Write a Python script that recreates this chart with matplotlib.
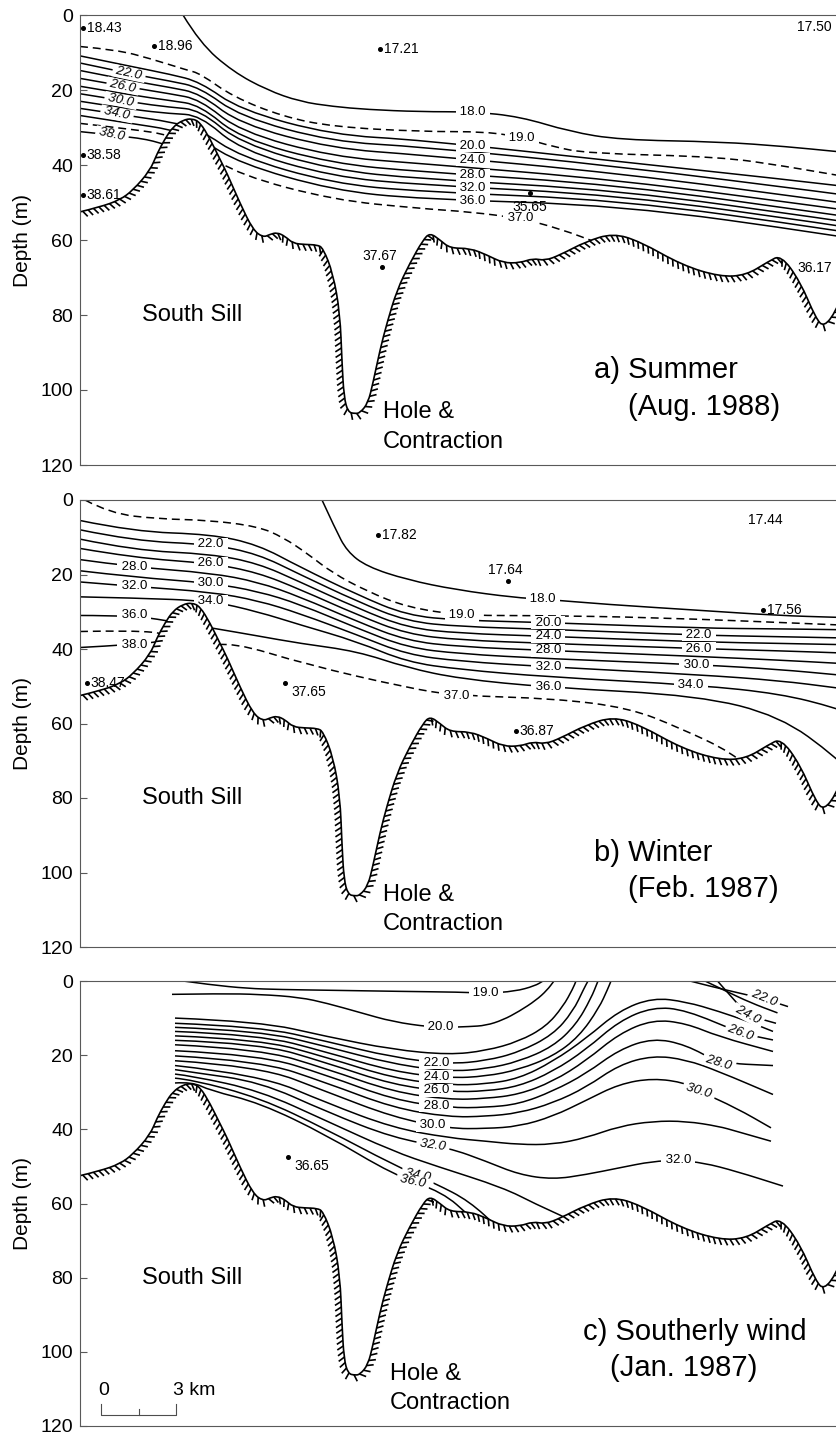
import numpy as np
import matplotlib
matplotlib.use("Agg")
import matplotlib.pyplot as plt
from matplotlib import patheffects
from matplotlib.path import Path
from matplotlib.patches import PathPatch

plt.rcParams["font.family"] = ["Liberation Sans", "DejaVu Sans"]

FIG_W, FIG_H = 836, 1437                 # pixels at dpi 100
AX_LEFT, AX_RIGHT = 80, 880              # section runs on past the page edge
PX_PER_KM = 25.0
PANEL_ROWS = [(15, 465), (500, 947), (981, 1426)]
DEPTH_TICKS = [0, 20, 40, 60, 80, 100, 120]

# =========================
# Bottom profile along the section (km, m)
# =========================
BOTTOM_KM = [0.0, 0.8, 1.6, 2.12, 2.8, 3.08, 3.4, 3.72, 4.12, 4.48, 4.8, 5.2, 5.6,
             5.88, 6.4, 6.92, 7.32, 7.6, 7.88, 8.2, 8.52, 9.0, 9.48, 9.72, 10.12,
             10.4, 10.48, 10.56, 10.72, 11.0, 11.2, 11.52, 11.72, 12.0, 12.28,
             12.68, 13.2, 13.72, 14.0, 14.4, 14.8, 15.6, 16.28, 16.92, 17.6, 18.12,
             18.6, 19.2, 20.24, 21.32, 22.4, 24.08, 25.6, 26.64, 27.52, 28.04, 28.8,
             29.44, 29.76, 30.24, 30.8, 31.4, 32.0]
BOTTOM_M = [52.5, 51.2, 49.3, 46.7, 41.5, 37.0, 33.0, 29.8, 28.0, 27.6, 28.6, 33.0, 38.5,
            42.2, 50.2, 57.3, 59.3, 58.5, 58.0, 59.0, 60.9, 61.2, 61.3, 62.1, 68.9,
            79.5, 92.8, 101.9, 105.9, 106.3, 106.1, 103.5, 98.1, 89.3, 82.1,
            73.3, 66.1, 60.0, 58.1, 60.0, 62.2, 62.2, 64.0, 66.1, 66.1, 64.9,
            65.5, 64.0, 60.4, 58.2, 60.4, 66.7, 69.8, 69.4, 65.8, 64.0, 71.0,
            81.0, 83.2, 79.0, 70.0, 64.0, 60.0]

# =========================
# a) Summer (Aug. 1988) isohalines
# =========================
A_X = [0.0, 2.1, 3.6, 4.8, 6.4, 10.1, 13.6, 21.6, 30.2, 32.0]
A_LEVELS = [20, 22, 24, 26, 28, 30, 32, 34, 36]
A_DEPTHS = [
    [10.9, 13.8, 15.8, 17.8, 25.3, 32.0, 33.3, 39.1, 45.3, 47.0],
    [12.8, 15.8, 17.6, 19.3, 27.1, 33.8, 35.1, 40.4, 47.6, 49.3],
    [14.8, 17.6, 19.3, 20.9, 29.1, 35.6, 37.3, 42.2, 49.8, 51.5],
    [16.9, 19.4, 21.0, 22.5, 31.1, 37.8, 39.6, 44.0, 51.6, 53.3],
    [19.0, 21.4, 22.8, 24.0, 32.9, 39.6, 41.8, 45.3, 53.3, 55.0],
    [21.0, 23.3, 24.6, 25.3, 34.2, 41.3, 43.7, 46.7, 54.7, 56.5],
    [23.0, 25.2, 26.3, 26.7, 36.0, 43.1, 45.3, 48.0, 56.0, 58.0],
    [24.9, 27.0, 28.5, 30.5, 37.8, 44.9, 47.1, 49.3, 57.3, 59.5],
    [26.8, 29.0, 30.5, 33.0, 39.6, 46.7, 49.1, 50.7, 58.7, 61.0],
]
A_18_X = [4.12, 4.8, 6.12, 7.48, 8.8, 10.12, 11.48, 13.6, 15.72, 17.6, 19.6, 21.6, 25.6, 28.28, 30.24, 32.0]
A_18_Z = [0.0, 7.5, 15.1, 20.0, 23.1, 24.4, 25.2, 25.8, 25.8, 27.1, 31.1, 33.3, 33.8, 35.1, 36.4, 37.5]
A_19_X = [0.0, 1.48, 2.8, 4.28, 4.8, 6.12, 8.12, 10.12, 13.6, 16.28, 17.68, 18.92, 20.28, 25.6, 28.28, 30.24, 32.0]
A_19_Z = [8.4, 9.3, 11.6, 14.7, 15.6, 21.8, 27.1, 29.8, 31.1, 31.1, 32.7, 35.1, 36.9, 37.8, 40.4, 42.7, 44.5]
A_37_X = [0.0, 2.12, 3.6, 4.8, 6.4, 10.12, 13.6, 15.6, 17.6, 19.2, 20.8]
A_37_Z = [28.9, 30.5, 32.0, 36.0, 42.7, 49.3, 51.6, 52.5, 54.2, 57.0, 61.0]
A_38_X = [0.0, 2.12, 3.2, 4.0]
A_38_Z = [31.1, 32.5, 34.0, 36.0]

A_STN_X = [0.12, 2.96, 12.0, 0.12, 0.12, 18.0, 12.08, 28.7, 28.7]
A_STN_Z = [3.5, 8.3, 9.1, 37.3, 48.0, 47.4, 67.1, 3.2, 67.4]
A_STN_VAL = ["18.43", "18.96", "17.21", "38.58", "38.61", "35.65", "37.67", "17.50", "36.17"]
A_STN_POS = ["right", "right", "right", "right", "right", "below", "above", "bare", "bare"]

# =========================
# b) Winter (Feb. 1987) isohalines
# =========================
B_X = [0.0, 2.16, 5.24, 7.12, 8.8, 11.08, 13.08, 15.2, 18.72, 24.76, 28.0, 30.24, 32.0]
B_LEVELS = [20, 22, 24, 26, 28, 30, 32, 34]
B_DEPTHS = [
    [5.5, 8.5, 9.2, 12.0, 18.0, 25.4, 31.0, 32.3, 32.9, 34.4, 34.6, 34.8, 35.0],
    [8.0, 11.0, 11.9, 14.5, 20.0, 27.2, 32.6, 34.0, 34.7, 36.3, 36.7, 37.0, 37.2],
    [10.5, 13.5, 14.5, 17.0, 22.0, 29.0, 34.3, 35.8, 36.6, 38.1, 38.5, 38.8, 39.0],
    [13.0, 15.5, 17.0, 19.5, 24.0, 30.8, 36.0, 37.6, 38.5, 39.9, 40.5, 41.0, 41.5],
    [16.0, 18.0, 19.6, 22.0, 26.0, 32.6, 37.8, 39.4, 40.4, 42.0, 43.0, 43.8, 44.5],
    [19.0, 20.7, 22.3, 24.5, 28.0, 34.4, 39.6, 41.3, 42.6, 44.2, 45.5, 46.9, 48.0],
    [22.0, 23.2, 24.7, 27.0, 30.5, 36.2, 41.5, 43.3, 44.8, 46.9, 48.5, 50.4, 52.0],
    [26.0, 26.3, 27.1, 30.0, 33.5, 38.0, 43.5, 45.5, 47.5, 49.7, 52.0, 55.8, 60.0],
]
B_36_X = [0.0, 2.16, 4.0, 5.4, 7.12, 8.8, 11.08, 13.08, 15.2, 18.72, 24.76, 28.0, 30.24, 32.0]
B_36_Z = [31.0, 31.0, 33.0, 34.5, 36.5, 38.5, 40.6, 45.0, 48.0, 50.3, 52.5, 58.0, 69.0, 80.0]
B_18_X = [9.68, 10.2, 10.68, 11.48, 13.08, 15.04, 17.4, 18.52, 21.0, 24.96, 27.92, 30.24, 32.0]
B_18_Z = [0.0, 7.6, 13.8, 17.9, 21.4, 24.1, 26.2, 26.6, 28.0, 29.7, 31.0, 31.5, 31.8]
B_19_X = [0.2, 1.2, 3.16, 5.12, 7.12, 8.12, 9.12, 10.08, 11.48, 13.08, 15.28, 18.0, 22.96, 30.24, 32.0]
B_19_Z = [0.0, 3.6, 5.1, 5.4, 7.1, 10.0, 14.5, 19.5, 24.5, 28.8, 31.0, 31.0, 31.5, 33.5, 34.0]
B_37_X = [0.0, 2.16, 3.6, 4.8, 6.04, 9.08, 13.08, 15.04, 19.0, 21.96, 23.96, 26.12, 27.2]
B_37_Z = [35.3, 35.0, 36.0, 40.0, 38.0, 44.2, 50.4, 52.5, 53.3, 55.8, 61.1, 67.9, 75.0]
B_38_X = [0.0, 2.16, 3.2, 4.0]
B_38_Z = [39.6, 38.8, 38.0, 37.0]

B_STN_X = [0.28, 8.2, 11.92, 17.12, 27.4, 27.32, 17.44]
B_STN_Z = [49.1, 49.1, 9.4, 21.7, 5.4, 29.5, 61.9]
B_STN_VAL = ["38.47", "37.65", "17.82", "17.64", "17.44", "17.56", "36.87"]
B_STN_POS = ["right", "below_right", "right", "above", "bare_c", "right", "right"]

# =========================
# c) Southerly wind (Jan. 1987) isohalines, one entry per line piece
# =========================
C_LEVELS = [19, 20, 21, 22, 23, 24, 25, 26, 27, 28, 29, 30, 31, 32, 33, 34, 36, 22, 23, 24]
C_X = [
    [4.12, 5.2, 6.68, 8.0, 10.0, 12.8, 15.2, 16.24, 17.4, 18.2, 18.52],
    [3.68, 5.6, 7.2, 8.8, 9.88, 11.2, 12.52, 14.0, 14.64, 15.56, 16.24, 16.92, 17.56, 18.24, 18.68, 18.96],
    [3.8, 7.2, 9.88, 12.52, 14.76, 16.24, 17.56, 18.64, 19.32, 19.72, 19.84],
    [3.8, 7.2, 9.88, 12.52, 14.76, 16.24, 17.56, 18.92, 19.72, 20.16, 20.32],
    [3.8, 7.2, 9.88, 12.52, 14.76, 16.24, 17.56, 18.92, 19.84, 20.44, 20.72],
    [3.8, 7.2, 9.88, 12.52, 14.76, 16.24, 17.56, 18.92, 19.96, 20.76, 21.12, 21.24],
    [3.8, 7.2, 9.88, 12.52, 14.76, 16.24, 17.56, 18.92, 20.24, 21.56, 22.92, 24.24, 25.56, 26.72, 27.72],
    [3.8, 7.2, 9.88, 12.52, 14.76, 16.24, 17.56, 18.92, 20.24, 21.56, 22.92, 24.24, 26.44, 27.72],
    [3.8, 7.2, 9.88, 12.52, 14.76, 16.24, 17.56, 18.92, 20.24, 21.56, 22.92, 24.24, 25.56, 27.72],
    [3.8, 7.2, 9.88, 12.52, 14.76, 16.24, 17.56, 18.92, 20.24, 21.56, 22.92, 24.24, 25.56, 27.72],
    [3.8, 7.2, 9.88, 12.52, 14.76, 16.24, 17.56, 18.92, 20.24, 21.56, 22.92, 24.24, 25.56, 27.72],
    [3.8, 7.2, 9.88, 12.52, 14.76, 16.24, 17.56, 18.92, 20.24, 21.56, 22.92, 24.24, 24.76, 26.24, 27.64],
    [3.8, 7.2, 9.88, 12.52, 14.76, 16.24, 17.56, 18.92, 20.24, 21.56, 22.92, 24.24, 25.56, 26.24, 27.64],
    [3.8, 4.48, 7.2, 9.88, 12.52, 14.76, 16.24, 17.56, 18.92, 20.24, 21.56, 22.92, 23.92, 24.92, 26.24, 28.12],
    [3.8, 4.48, 7.2, 9.88, 12.52, 14.24, 16.92, 18.24, 19.56, 20.2],
    [3.8, 4.48, 7.2, 9.88, 12.52, 14.24, 15.56, 16.8],
    [3.8, 4.48, 5.2, 7.2, 9.88, 12.52, 14.52, 15.6],
    [24.4, 25.2, 26.4, 27.36, 28.32],
    [25.0, 25.8, 26.8, 27.9],
    [25.5, 26.1, 26.72, 27.84],
]
C_Z = [
    [0.0, 1.0, 2.0, 2.3, 2.5, 2.8, 3.0, 3.3, 2.8, 1.3, 0.0],
    [3.6, 3.4, 3.6, 4.4, 6.0, 8.5, 11.0, 12.4, 12.5, 12.3, 12.0, 10.5, 8.2, 5.2, 2.5, 0.0],
    [10.0, 10.9, 15.0, 18.5, 19.9, 18.8, 16.3, 12.3, 6.9, 2.0, 0.0],
    [11.4, 12.3, 16.3, 20.6, 22.4, 21.5, 19.2, 14.5, 8.2, 2.0, 0.0],
    [12.5, 13.4, 17.7, 22.4, 24.4, 23.7, 21.7, 17.7, 11.8, 4.7, 0.0],
    [13.6, 14.5, 19.2, 24.4, 26.2, 25.7, 23.9, 20.3, 15.0, 7.3, 2.0, 0.0],
    [14.8, 15.7, 20.6, 26.2, 28.1, 27.8, 26.3, 21.7, 15.5, 8.0, 4.5, 5.6, 8.2, 10.9, 13.6],
    [16.0, 16.8, 22.1, 28.0, 29.9, 29.7, 28.4, 24.4, 18.5, 10.8, 7.0, 7.8, 14.1, 15.9],
    [17.2, 18.3, 23.7, 29.9, 32.0, 31.7, 30.6, 27.1, 21.5, 14.2, 10.4, 11.4, 15.0, 19.0],
    [18.8, 19.9, 25.4, 32.0, 34.2, 34.1, 33.2, 29.7, 25.0, 18.5, 15.4, 17.2, 22.1, 22.8],
    [20.2, 21.5, 27.5, 34.2, 36.7, 36.5, 35.6, 32.9, 28.7, 22.6, 20.1, 21.2, 24.4, 30.6],
    [21.5, 23.0, 29.9, 36.7, 39.8, 39.8, 39.2, 36.5, 32.2, 27.8, 26.2, 27.5, 29.7, 34.2, 39.6],
    [22.8, 25.3, 32.9, 39.6, 42.3, 43.2, 44.1, 44.1, 42.3, 39.2, 37.8, 37.8, 39.2, 40.5, 43.2],
    [23.9, 24.6, 27.2, 35.3, 42.3, 45.0, 48.6, 52.2, 53.5, 52.2, 50.4, 48.6, 48.4, 49.0, 51.3, 55.3],
    [25.1, 25.6, 29.6, 37.8, 45.9, 49.9, 55.7, 60.2, 64.2, 67.0],
    [26.2, 26.6, 31.5, 40.1, 49.5, 54.7, 59.3, 67.0],
    [27.5, 27.2, 29.5, 32.9, 41.6, 52.2, 57.0, 63.5],
    [0.0, 1.4, 3.3, 4.8, 6.9],
    [0.0, 2.6, 5.8, 8.6],
    [0.0, 4.6, 9.3, 11.4],
]

C_STN_X = [8.32]
C_STN_Z = [47.5]
C_STN_VAL = ["36.65"]
C_STN_POS = ["below_right"]

TITLES = ["a) Summer", "b) Winter", "c) Southerly wind"]
DATES = ["(Aug. 1988)", "(Feb. 1987)", "(Jan. 1987)"]
TITLE_X = [20.56, 20.56, 20.12]
DATE_X = [21.92, 21.92, 21.2]
HOLE_X = [12.12, 12.12, 12.4]

SCALE_X0, SCALE_KM, SCALE_Z = 0.84, 3.0, 117.0


# =========================
# Drawing helpers
# =========================
def smooth_path(xs, zs):
    # quadratic curve through the midpoints, using the listed points as controls
    pts = np.column_stack([xs, zs]).astype(float)
    if len(pts) < 3:
        return Path(pts)
    verts = [pts[0]]
    codes = [Path.MOVETO]
    for i in range(1, len(pts) - 1):
        verts += [pts[i], (pts[i] + pts[i + 1]) / 2]
        codes += [Path.CURVE3, Path.CURVE3]
    verts.append(pts[-1])
    codes.append(Path.LINETO)
    return Path(verts, codes)


def iso(ax, xs, zs, dashed=False):
    ls = (0, (5.2, 3.2)) if dashed else "-"
    ax.add_patch(PathPatch(smooth_path(xs, zs), fill=False, ec="black", lw=1.1,
                           ls=ls, joinstyle="round", zorder=1))


def clab(ax, xs, zs, x, level, rot=0, italic=False):
    z = np.interp(x, xs, zs)
    ax.text(x, z, " %.1f " % level, ha="center", va="center", fontsize=9.5,
            rotation=rot, rotation_mode="anchor",
            style="italic" if italic else "normal",
            bbox=dict(boxstyle="square,pad=0.02", fc="white", ec="none"),
            zorder=1.1)


def stations(ax, xs, zs, vals, where):
    for x, z, v, w in zip(xs, zs, vals, where):
        kw = dict(fontsize=10, va="center", zorder=3)
        if w == "bare":
            ax.text(x, z, v, ha="left", **kw)
            continue
        if w == "bare_c":
            ax.text(x, z, v, ha="center", **kw)
            continue
        ax.plot(x, z, "o", color="black", ms=2.6, zorder=3)
        if w == "right":
            ax.text(x + 0.15, z, v, ha="left", **kw)
        elif w == "below":
            ax.text(x, z + 3.8, v, ha="center", **kw)
        elif w == "above":
            ax.text(x - 0.1, z - 2.8, v, ha="center", **kw)
        elif w == "below_right":
            ax.text(x + 0.25, z + 2.4, v, ha="left", **kw)


def sea_floor(ax):
    bed = smooth_path(BOTTOM_KM, BOTTOM_M)
    # white under the bed hides the isohalines that run into it
    verts = np.vstack([bed.vertices, [[BOTTOM_KM[-1], 120], [BOTTOM_KM[0], 120], [0, 0]]])
    codes = list(bed.codes) + [Path.LINETO, Path.LINETO, Path.CLOSEPOLY]
    ax.add_patch(PathPatch(Path(verts, codes), fc="white", ec="none", zorder=1.2))
    ax.add_patch(PathPatch(bed, fill=False, ec="black", lw=1.2, zorder=1.3,
                           path_effects=[patheffects.withTickedStroke(spacing=4.0, angle=-60,
                                                                      length=1.3)]))


fig = plt.figure(figsize=(FIG_W / 100, FIG_H / 100), dpi=100)
axes = []
for i, (top, bot) in enumerate(PANEL_ROWS):
    ax = fig.add_axes([AX_LEFT / FIG_W, 1 - bot / FIG_H,
                       (AX_RIGHT - AX_LEFT) / FIG_W, (bot - top) / FIG_H])
    ax.set_xlim(0, (AX_RIGHT - AX_LEFT) / PX_PER_KM)
    ax.set_ylim(120, 0)
    ax.set_xticks([])
    ax.set_yticks(DEPTH_TICKS)
    ax.tick_params(axis="y", direction="in", length=5, width=0.8, color="0.35",
                   labelsize=14, pad=5)
    for s in ax.spines.values():
        s.set_linewidth(0.8)
        s.set_color("0.35")
    ax.set_ylabel("Depth (m)", fontsize=15)
    ax.yaxis.set_label_coords(-0.06, 0.5)

    sea_floor(ax)

    ax.text(2.48, 80, "South Sill", fontsize=17, va="center", zorder=3)
    ax.text(HOLE_X[i], 106, "Hole &", fontsize=17, va="center", zorder=3)
    ax.text(HOLE_X[i], 113.9, "Contraction", fontsize=17, va="center", zorder=3)
    ax.text(TITLE_X[i], 94.7, TITLES[i], fontsize=21, va="center", zorder=3)
    ax.text(DATE_X[i], 104.4, DATES[i], fontsize=21, va="center", zorder=3)
    axes.append(ax)

# ---- a) Summer ----
ax = axes[0]
for lev, zs in zip(A_LEVELS, A_DEPTHS):
    iso(ax, A_X, zs)
iso(ax, A_18_X, A_18_Z)
iso(ax, A_19_X, A_19_Z, dashed=True)
iso(ax, A_37_X, A_37_Z, dashed=True)
iso(ax, A_38_X, A_38_Z)
rows = dict(zip(A_LEVELS, A_DEPTHS))
for lev, x in [(22, 1.96), (26, 1.72), (30, 1.64), (34, 1.48)]:
    clab(ax, A_X, rows[lev], x, lev, rot=-12, italic=True)
clab(ax, A_38_X, A_38_Z, 1.28, 38, rot=-12, italic=True)
for lev in [20, 24, 28, 32, 36]:
    clab(ax, A_X, rows[lev], 15.72, lev)
clab(ax, A_18_X, A_18_Z, 15.72, 18)
clab(ax, A_19_X, A_19_Z, 17.68, 19)
clab(ax, A_37_X, A_37_Z, 17.6, 37)
stations(ax, A_STN_X, A_STN_Z, A_STN_VAL, A_STN_POS)

# ---- b) Winter ----
ax = axes[1]
for lev, zs in zip(B_LEVELS, B_DEPTHS):
    iso(ax, B_X, zs)
iso(ax, B_36_X, B_36_Z)
iso(ax, B_18_X, B_18_Z)
iso(ax, B_19_X, B_19_Z, dashed=True)
iso(ax, B_37_X, B_37_Z, dashed=True)
iso(ax, B_38_X, B_38_Z)
rows = dict(zip(B_LEVELS, B_DEPTHS))
for lev in [28, 32]:
    clab(ax, B_X, rows[lev], 2.16, lev)
clab(ax, B_36_X, B_36_Z, 2.16, 36)
clab(ax, B_38_X, B_38_Z, 2.16, 38)
for lev in [22, 26, 30, 34]:
    clab(ax, B_X, rows[lev], 5.24, lev)
for lev in [20, 24, 28, 32]:
    clab(ax, B_X, rows[lev], 18.72, lev)
clab(ax, B_36_X, B_36_Z, 18.72, 36)
clab(ax, B_18_X, B_18_Z, 18.52, 18)
clab(ax, B_19_X, B_19_Z, 15.28, 19)
clab(ax, B_37_X, B_37_Z, 15.04, 37)
for lev, x in [(22, 24.76), (26, 24.76), (30, 24.64), (34, 24.44)]:
    clab(ax, B_X, rows[lev], x, lev)
stations(ax, B_STN_X, B_STN_Z, B_STN_VAL, B_STN_POS)

# ---- c) Southerly wind ----
ax = axes[2]
for lev, xs, zs in zip(C_LEVELS, C_X, C_Z):
    iso(ax, xs, zs)
pieces = list(zip(C_LEVELS, C_X, C_Z))
left_pieces = {lev: (xs, zs) for lev, xs, zs in pieces[:17]}
right_pieces = {lev: (xs, zs) for lev, xs, zs in pieces[17:]}
clab(ax, *left_pieces[19], 16.24, 19)
clab(ax, *left_pieces[20], 14.44, 20)
for lev in [22, 24, 26, 28]:
    clab(ax, *left_pieces[lev], 14.24, lev)
clab(ax, *left_pieces[30], 14.12, 30)
clab(ax, *left_pieces[32], 14.12, 32, rot=-8, italic=True)
clab(ax, *left_pieces[34], 13.52, 34, rot=-12, italic=True)
clab(ax, *left_pieces[36], 13.32, 36, rot=-12, italic=True)
clab(ax, *right_pieces[22], 27.36, 22, rot=-22, italic=True)
clab(ax, *right_pieces[24], 26.72, 24, rot=-28, italic=True)
clab(ax, *left_pieces[26], 26.44, 26, rot=-20, italic=True)
clab(ax, *left_pieces[28], 25.56, 28, rot=-17, italic=True)
clab(ax, *left_pieces[30], 24.76, 30, rot=-17, italic=True)
clab(ax, *left_pieces[32], 23.92, 32)
stations(ax, C_STN_X, C_STN_Z, C_STN_VAL, C_STN_POS)

# scale bar
x1 = SCALE_X0 + SCALE_KM
ax.plot([SCALE_X0, SCALE_X0, x1, x1], [SCALE_Z - 3, SCALE_Z, SCALE_Z, SCALE_Z - 3],
        color="0.3", lw=0.8, zorder=3)
ax.plot([SCALE_X0 + SCALE_KM / 2] * 2, [SCALE_Z, SCALE_Z - 1.6], color="0.3", lw=0.8, zorder=3)
ax.text(SCALE_X0 + 0.12, 110.3, "0", fontsize=14, ha="center", va="center", zorder=3)
ax.text(x1 - 0.12, 110.3, "3 km", fontsize=14, ha="left", va="center", zorder=3)

fig.savefig("out.png", dpi=100)
